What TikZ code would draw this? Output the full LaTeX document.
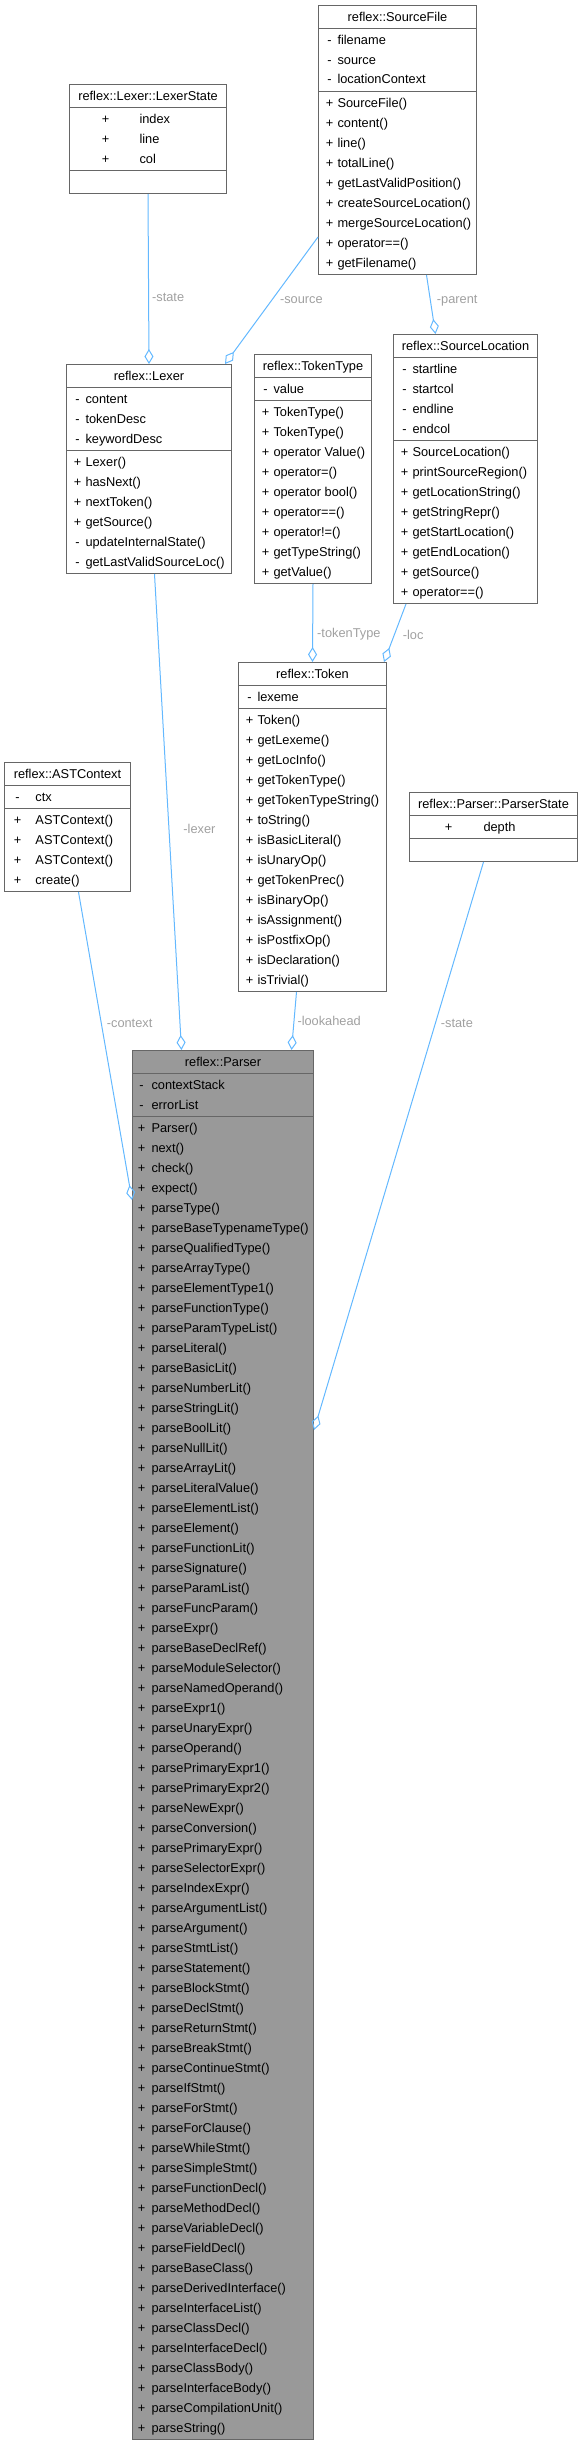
\documentclass[tikz,border=0pt]{standalone}
\usepackage{fontspec}
\setmainfont{Liberation Sans}
\usepackage{array}
\usepackage{tikz}
\usetikzlibrary{arrows.meta, shapes.multipart}
\usepackage{xcolor}
\definecolor{boxGray}{HTML}{666666}
\definecolor{parserFill}{HTML}{999999}
\definecolor{edgeBlue}{HTML}{63B8FF}
\definecolor{labelGray}{HTML}{A0A0A0}

% member rows: symbol column, then the name
\newcolumntype{A}[2]{@{\hspace{#1}}w{c}{10pt}@{\hspace{#2}}l@{}}
\newcommand{\ctitle}[1]{\makebox[\boxw]{\strut#1}}
\newcommand{\cbody}[2]{\makebox[\boxw][l]{\begin{tabular}{#1}#2\end{tabular}}}

\tikzset{
  classbox/.style={rectangle split, rectangle split parts=3, draw=boxGray,
    fill=white, line width=1pt, inner xsep=0pt, inner ysep=1pt,
    anchor=north west, font=\fontsize{12.8}{20}\selectfont},
  boxw/.code={\def\boxw{#1}},
  assoc/.style={draw=edgeBlue, line width=1pt,
    -{Diamond[open, length=15pt, width=9pt]}},
  edgelbl/.style={anchor=west, inner sep=0pt, text=labelGray,
    font=\fontsize{12.8}{20}\selectfont}
}

\begin{document}
\begin{tikzpicture}[x=1pt, y=-1pt]
  \useasboundingbox (0,0) rectangle (583,2441);

  \node[classbox, boxw=158pt] (srcfile) at (318,5)
    {\ctitle{reflex::SourceFile}
     \nodepart{two}\cbody{A{6pt}{3pt}}{- & filename\\ - & source\\ - & locationContext}
     \nodepart{three}\cbody{A{6pt}{3pt}}{+ & SourceFile()\\ + & content()\\
       + & line()\\ + & totalLine()\\ + & getLastValidPosition()\\
       + & createSourceLocation()\\ + & mergeSourceLocation()\\
       + & operator==()\\ + & getFilename()}};

  \node[classbox, boxw=157pt] (lexerstate) at (69,84)
    {\ctitle{reflex::Lexer::LexerState}
     \nodepart{two}\cbody{A{31pt}{29pt}}{+ & index\\ + & line\\ + & col}
     \nodepart{three}\ctitle{}};

  \node[classbox, boxw=165pt] (lexer) at (66,364)
    {\ctitle{reflex::Lexer}
     \nodepart{two}\cbody{A{6pt}{3pt}}{- & content\\ - & tokenDesc\\ - & keywordDesc}
     \nodepart{three}\cbody{A{6pt}{3pt}}{+ & Lexer()\\ + & hasNext()\\
       + & nextToken()\\ + & getSource()\\ - & updateInternalState()\\
       - & getLastValidSourceLoc()}};

  \node[classbox, boxw=117pt] (tokentype) at (254,354)
    {\ctitle{reflex::TokenType}
     \nodepart{two}\cbody{A{6pt}{3pt}}{- & value}
     \nodepart{three}\cbody{A{6pt}{3pt}}{+ & TokenType()\\ + & TokenType()\\
       + & operator Value()\\ + & operator=()\\ + & operator bool()\\
       + & operator==()\\ + & operator!=()\\ + & getTypeString()\\
       + & getValue()}};

  \node[classbox, boxw=144pt] (srcloc) at (393,334)
    {\ctitle{reflex::SourceLocation}
     \nodepart{two}\cbody{A{6pt}{3pt}}{- & startline\\ - & startcol\\
       - & endline\\ - & endcol}
     \nodepart{three}\cbody{A{6pt}{3pt}}{+ & SourceLocation()\\
       + & printSourceRegion()\\ + & getLocationString()\\
       + & getStringRepr()\\ + & getStartLocation()\\ + & getEndLocation()\\
       + & getSource()\\ + & operator==()}};

  \node[classbox, boxw=148pt] (token) at (238,662)
    {\ctitle{reflex::Token}
     \nodepart{two}\cbody{A{6pt}{3pt}}{- & lexeme}
     \nodepart{three}\cbody{A{6pt}{3pt}}{+ & Token()\\ + & getLexeme()\\
       + & getLocInfo()\\ + & getTokenType()\\ + & getTokenTypeString()\\
       + & toString()\\ + & isBasicLiteral()\\ + & isUnaryOp()\\
       + & getTokenPrec()\\ + & isBinaryOp()\\ + & isAssignment()\\
       + & isPostfixOp()\\ + & isDeclaration()\\ + & isTrivial()}};

  \node[classbox, boxw=126pt] (astctx) at (4,762)
    {\ctitle{reflex::ASTContext}
     \nodepart{two}\cbody{A{8pt}{13pt}}{- & ctx}
     \nodepart{three}\cbody{A{8pt}{13pt}}{+ & ASTContext()\\ + & ASTContext()\\
       + & ASTContext()\\ + & create()}};

  \node[classbox, boxw=168pt] (parserstate) at (409,792)
    {\ctitle{reflex::Parser::ParserState}
     \nodepart{two}\cbody{A{34pt}{30pt}}{+ & depth}
     \nodepart{three}\ctitle{}};

  \node[classbox, boxw=181pt, fill=parserFill] (parser) at (132,1050)
    {\ctitle{reflex::Parser}
     \nodepart{two}\cbody{A{4pt}{5pt}}{- & contextStack\\ - & errorList}
     \nodepart{three}\cbody{A{4pt}{5pt}}{+ & Parser()\\ + & next()\\
       + & check()\\ + & expect()\\ + & parseType()\\
       + & parseBaseTypenameType()\\ + & parseQualifiedType()\\
       + & parseArrayType()\\ + & parseElementType1()\\
       + & parseFunctionType()\\ + & parseParamTypeList()\\
       + & parseLiteral()\\ + & parseBasicLit()\\ + & parseNumberLit()\\
       + & parseStringLit()\\ + & parseBoolLit()\\ + & parseNullLit()\\
       + & parseArrayLit()\\ + & parseLiteralValue()\\
       + & parseElementList()\\ + & parseElement()\\
       + & parseFunctionLit()\\ + & parseSignature()\\
       + & parseParamList()\\ + & parseFuncParam()\\ + & parseExpr()\\
       + & parseBaseDeclRef()\\ + & parseModuleSelector()\\
       + & parseNamedOperand()\\ + & parseExpr1()\\ + & parseUnaryExpr()\\
       + & parseOperand()\\ + & parsePrimaryExpr1()\\
       + & parsePrimaryExpr2()\\ + & parseNewExpr()\\
       + & parseConversion()\\ + & parsePrimaryExpr()\\
       + & parseSelectorExpr()\\ + & parseIndexExpr()\\
       + & parseArgumentList()\\ + & parseArgument()\\
       + & parseStmtList()\\ + & parseStatement()\\ + & parseBlockStmt()\\
       + & parseDeclStmt()\\ + & parseReturnStmt()\\ + & parseBreakStmt()\\
       + & parseContinueStmt()\\ + & parseIfStmt()\\ + & parseForStmt()\\
       + & parseForClause()\\ + & parseWhileStmt()\\ + & parseSimpleStmt()\\
       + & parseFunctionDecl()\\ + & parseMethodDecl()\\
       + & parseVariableDecl()\\ + & parseFieldDecl()\\
       + & parseBaseClass()\\ + & parseDerivedInterface()\\
       + & parseInterfaceList()\\ + & parseClassDecl()\\
       + & parseInterfaceDecl()\\ + & parseClassBody()\\
       + & parseInterfaceBody()\\ + & parseCompilationUnit()\\
       + & parseString()}};

  % aggregations
  \draw[assoc] (lexerstate.south) -- (lexer.north)
    node[edgelbl, pos=0.61, xshift=3pt] {-state};
  \draw[assoc] ([yshift=38pt]srcfile.south west) -- ([xshift=-7pt]lexer.north east)
    node[edgelbl, pos=0.5, xshift=8pt] {-source};
  \draw[assoc] ([xshift=29pt]srcfile.south) -- ([xshift=-30pt]srcloc.north)
    node[edgelbl, pos=0.43, xshift=6pt] {-parent};
  \draw[assoc] (tokentype.south) -- (token.north)
    node[edgelbl, pos=0.64, xshift=4pt] {-tokenType};
  \draw[assoc] ([xshift=13pt]srcloc.south west) -- ([xshift=-3pt]token.north east)
    node[edgelbl, pos=0.53, xshift=8pt] {-loc};
  \draw[assoc] ([xshift=5.5pt]lexer.south) -- ([xshift=-41.5pt]parser.north)
    node[edgelbl, pos=0.535, xshift=14pt] {-lexer};
  \draw[assoc] ([xshift=-16pt]token.south) -- ([xshift=68.5pt]parser.north)
    node[edgelbl, pos=0.5, xshift=3pt] {-lookahead};
  \draw[assoc] ([xshift=11pt]astctx.south) -- ([yshift=-150pt]parser.north west)
    node[edgelbl, pos=0.427, xshift=5pt] {-context};
  \draw[assoc] ([xshift=-10pt]parserstate.south) -- ([yshift=-380pt]parser.north east)
    node[edgelbl, pos=0.284, xshift=5pt] {-state};
\end{tikzpicture}
\end{document}
